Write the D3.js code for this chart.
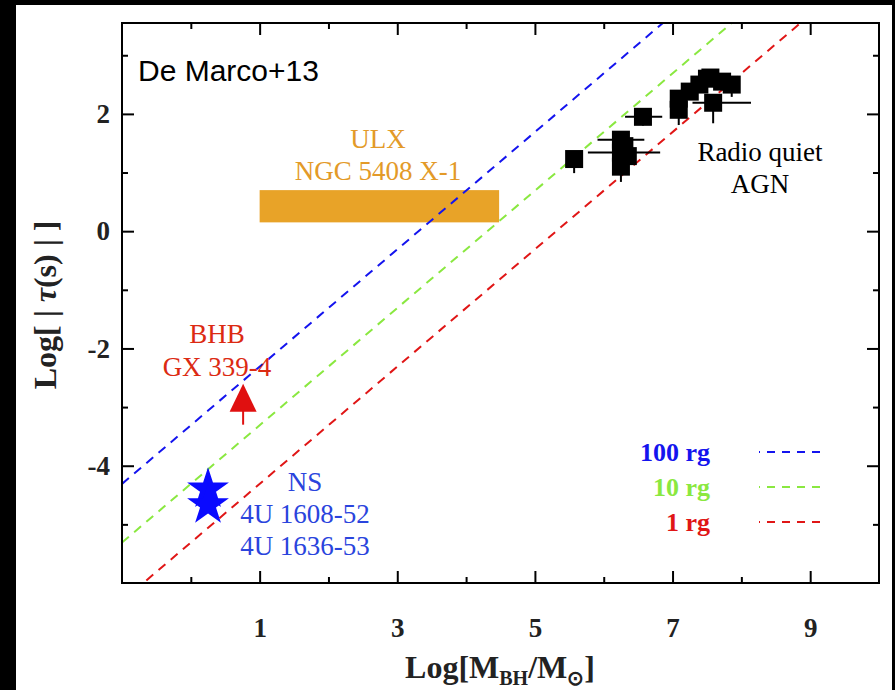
<!DOCTYPE html>
<html><head><meta charset="utf-8">
<script src="https://cdn.jsdelivr.net/npm/d3@7"></script>
<style>body{margin:0;background:#000;} svg{display:block}</style>
</head><body>
<svg id="chart" width="895" height="690"></svg>
<script>
// Soft X-ray lag against black-hole mass, with light-crossing lines
const xMajorTicks = [1, 3, 5, 7, 9];
const xMinorTicks = [0, 2, 4, 6, 8];
const yMajorTicks = [-4, -2, 0, 2];
const yMinorTicks = [-5, -3, -1, 1, 3];

// light-crossing time of N gravitational radii: log tau = log M + log N + log(GM_sun/c^3)
const radii = [100, 10, 1];
const radiusLabels = ["100 rg", "10 rg", "1 rg"];
const radiusColors = ["#1414ee", "#8ae840", "#e01616"];
const logRgTime = -5.31;

// radio-quiet AGN (log M, log lag, asymmetric errors)
const agnMass   = [5.57, 6.25, 6.25, 6.25, 6.30, 6.35, 6.57, 7.09, 7.09, 7.25, 7.39, 7.50, 7.55, 7.59, 7.72, 7.86];
const agnLag    = [1.23, 1.56, 1.34, 1.10, 1.45, 1.28, 1.95, 2.26, 2.07, 2.38, 2.50, 2.60, 2.62, 2.19, 2.55, 2.50];
const agnMassLo = [0.00, 0.34, 0.48, 0.00, 0.00, 0.00, 0.26, 0.00, 0.00, 0.00, 0.00, 0.22, 0.00, 0.30, 0.00, 0.10];
const agnMassHi = [0.00, 0.34, 0.57, 0.00, 0.00, 0.00, 0.28, 0.00, 0.00, 0.00, 0.00, 0.25, 0.00, 0.55, 0.00, 0.10];
const agnLagLo  = [0.24, 0.00, 0.00, 0.26, 0.00, 0.00, 0.15, 0.00, 0.26, 0.00, 0.00, 0.00, 0.00, 0.35, 0.00, 0.21];
const agnLagHi  = [0.00, 0.00, 0.00, 0.00, 0.00, 0.00, 0.15, 0.00, 0.00, 0.00, 0.00, 0.00, 0.00, 0.00, 0.00, 0.00];

// ULX NGC 5408 X-1 range
const ulxMass = [1.0, 4.48];
const ulxLag = [0.15, 0.70];

// BHB GX 339-4 lower limit
const bhbMass = 0.76;
const bhbLag = -3.3;

// neutron stars 4U 1608-52, 4U 1636-53
const nsMass = [0.25, 0.25];
const nsLag = [-4.40, -4.67];

const svg = d3.select("#chart");
const W = 895, H = 690;
const m = {left: 122, right: 879, top: 23, bottom: 583};

const x = d3.scaleLinear().domain([-1, 10]).range([m.left, m.right]);
const y = d3.scaleLinear().domain([-6, 3.55]).range([m.bottom, m.top]);

// page and frame background
svg.append("rect").attr("width", W).attr("height", H).attr("fill", "#000");
svg.append("rect").attr("x", 16).attr("y", 5).attr("width", 876).attr("height", H - 5).attr("fill", "#fff");

svg.append("defs").append("clipPath").attr("id", "plot")
  .append("rect").attr("x", m.left).attr("y", m.top)
  .attr("width", m.right - m.left).attr("height", m.bottom - m.top);

const serif = "'Liberation Serif', 'Times New Roman', serif";

// ULX band
svg.append("rect")
  .attr("x", x(ulxMass[0])).attr("y", y(ulxLag[1]))
  .attr("width", x(ulxMass[1]) - x(ulxMass[0]))
  .attr("height", y(ulxLag[0]) - y(ulxLag[1]))
  .attr("fill", "#e8a328");

// light-crossing lines
const lineG = svg.append("g").attr("clip-path", "url(#plot)");
radii.forEach((n, i) => {
  const off = Math.log10(n) + logRgTime;
  const xs = x.domain();
  lineG.append("line")
    .attr("x1", x(xs[0])).attr("y1", y(xs[0] + off))
    .attr("x2", x(xs[1])).attr("y2", y(xs[1] + off))
    .attr("stroke", radiusColors[i]).attr("stroke-width", 2)
    .attr("stroke-dasharray", "9,7");
});

// AGN error bars and squares
const agn = agnMass.map((mm, i) => ({m: mm, l: agnLag[i], mlo: agnMassLo[i], mhi: agnMassHi[i], llo: agnLagLo[i], lhi: agnLagHi[i]}));
const agnG = svg.append("g");
agn.forEach(d => {
  if (d.mlo || d.mhi) agnG.append("line")
    .attr("x1", x(d.m - d.mlo)).attr("x2", x(d.m + d.mhi))
    .attr("y1", y(d.l)).attr("y2", y(d.l))
    .attr("stroke", "#000").attr("stroke-width", 2);
  if (d.llo || d.lhi) agnG.append("line")
    .attr("x1", x(d.m)).attr("x2", x(d.m))
    .attr("y1", y(d.l - d.llo)).attr("y2", y(d.l + d.lhi))
    .attr("stroke", "#000").attr("stroke-width", 2);
});
const sq = 18;
agnG.selectAll("rect.agn").data(agn).join("rect")
  .attr("class", "agn")
  .attr("x", d => x(d.m) - sq / 2).attr("y", d => y(d.l) - sq / 2)
  .attr("width", sq).attr("height", sq).attr("fill", "#000");

// BHB arrow (lower limit)
const ax = x(bhbMass), ay = y(bhbLag);
svg.append("line").attr("x1", ax).attr("x2", ax).attr("y1", ay).attr("y2", ay - 16)
  .attr("stroke", "#e01010").attr("stroke-width", 2);
svg.append("path")
  .attr("d", `M${ax},${ay - 41} L${ax - 13.5},${ay - 13} L${ax + 13.5},${ay - 13} Z`)
  .attr("fill", "#e01010");

// neutron-star stars
svg.selectAll("path.ns").data(nsMass).join("path")
  .attr("class", "ns")
  .attr("transform", (d, i) => `translate(${x(d)},${y(nsLag[i])})`)
  .attr("d", d3.symbol(d3.symbolStar, 543)())
  .attr("fill", "#0a0aff");

// frame
svg.append("rect").attr("x", m.left).attr("y", m.top)
  .attr("width", m.right - m.left).attr("height", m.bottom - m.top)
  .attr("fill", "none").attr("stroke", "#000").attr("stroke-width", 2);

// ticks on all four sides
function ticks(gen, tr, vals, size, labels) {
  const g = svg.append("g").attr("transform", tr)
    .call(gen.tickValues(vals).tickSize(size).tickSizeOuter(0)
      .tickPadding(labels ? labels.pad : 0)
      .tickFormat(labels ? (d => String(d)) : ""));
  g.select(".domain").remove();
  g.selectAll(".tick line").attr("stroke", "#000").attr("stroke-width", 2);
  g.selectAll(".tick text").attr("font-family", serif).attr("font-weight", "bold")
    .attr("font-size", 27).attr("fill", "#222");
  return g;
}
ticks(d3.axisBottom(x), `translate(0,${m.bottom})`, xMajorTicks, -12, {pad: 35});
ticks(d3.axisBottom(x), `translate(0,${m.bottom})`, xMinorTicks, -6);
ticks(d3.axisTop(x), `translate(0,${m.top})`, xMajorTicks, -12);
ticks(d3.axisTop(x), `translate(0,${m.top})`, xMinorTicks, -6);
ticks(d3.axisLeft(y), `translate(${m.left},0)`, yMajorTicks, -12, {pad: 12});
ticks(d3.axisLeft(y), `translate(${m.left},0)`, yMinorTicks, -6);
ticks(d3.axisRight(y), `translate(${m.right},0)`, yMajorTicks, -12);
ticks(d3.axisRight(y), `translate(${m.right},0)`, yMinorTicks, -6);

// axis titles
const xt = svg.append("text").attr("x", 500).attr("y", 678).attr("text-anchor", "middle")
  .attr("font-family", serif).attr("font-weight", "bold").attr("font-size", 32).attr("fill", "#222");
xt.append("tspan").text("Log[M");
xt.append("tspan").attr("font-size", 20).attr("dy", 7).text("BH");
xt.append("tspan").attr("dy", -7).text("/M");
xt.append("tspan").attr("font-size", 20).attr("dy", 7).text("⊙");
xt.append("tspan").attr("dy", -7).text("]");

const yt = svg.append("text").attr("transform", "translate(56,305) rotate(-90)")
  .attr("text-anchor", "middle")
  .attr("font-family", serif).attr("font-weight", "bold").attr("font-size", 32).attr("fill", "#222");
yt.append("tspan").text("Log[ | ");
yt.append("tspan").attr("font-style", "italic").text("τ");
yt.append("tspan").text("(s) | ]");

// annotations
function label(lines, cx, y0, dy, color) {
  const t = svg.append("text").attr("text-anchor", "middle")
    .attr("font-family", serif).attr("font-size", 27).attr("fill", color);
  lines.forEach((s, i) => t.append("tspan").attr("x", cx).attr("y", y0 + i * dy).text(s));
  return t;
}
label(["ULX", "NGC 5408 X-1"], 378, 148, 32, "#e39a28");
label(["BHB", "GX 339-4"], 217, 343, 33, "#dc2a12");
label(["NS", "4U 1608-52", "4U 1636-53"], 305, 491, 32, "#2a44dd");
label(["Radio quiet", "AGN"], 760, 161, 32, "#000");

svg.append("text").attr("x", 138).attr("y", 81)
  .attr("font-family", "'Liberation Sans', Arial, sans-serif").attr("font-size", 30)
  .attr("fill", "#000").text("De Marco+13");

// legend
const legendY = [452, 487, 522];
radii.forEach((n, i) => {
  svg.append("text").attr("x", 710).attr("y", legendY[i] + 9).attr("text-anchor", "end")
    .attr("font-family", serif).attr("font-weight", "bold").attr("font-size", 26)
    .attr("fill", radiusColors[i]).text(radiusLabels[i]);
  svg.append("line").attr("x1", 759).attr("x2", 826)
    .attr("y1", legendY[i]).attr("y2", legendY[i])
    .attr("stroke", radiusColors[i]).attr("stroke-width", 2)
    .attr("stroke-dasharray", "8,7").attr("stroke-dashoffset", 7);
});
</script>
</body></html>
